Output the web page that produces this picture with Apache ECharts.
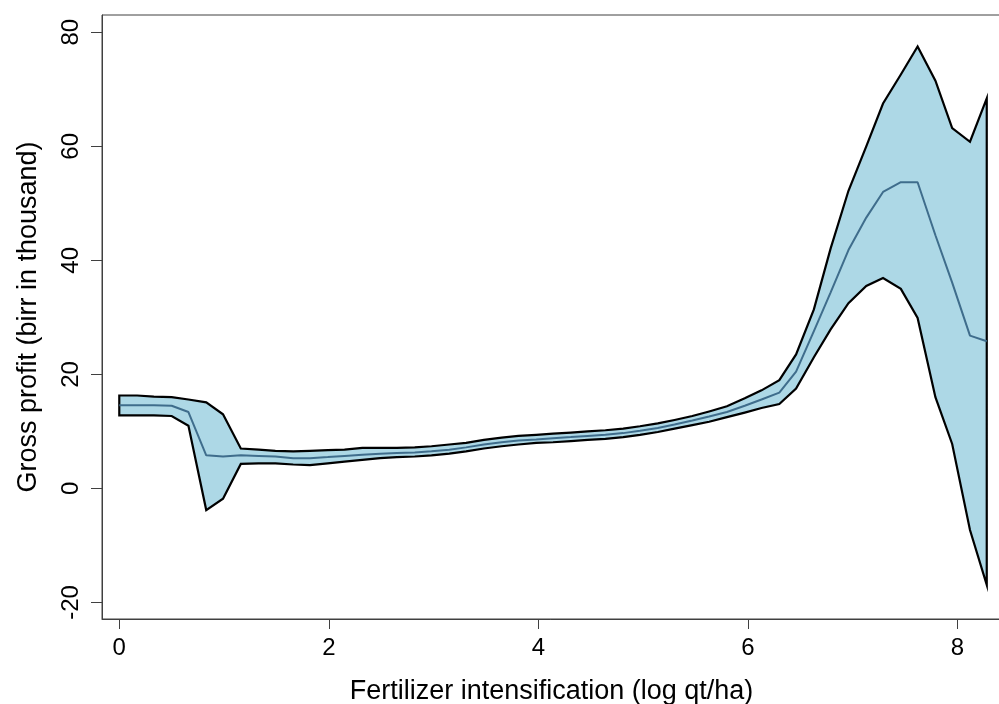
<!DOCTYPE html>
<html>
<head>
<meta charset="utf-8">
<script src="https://cdn.jsdelivr.net/npm/echarts@6/dist/echarts.min.js"></script>
<style>
  html, body { margin: 0; padding: 0; background: #fff; }
  #main { width: 999px; height: 704px; }
</style>
</head>
<body>
<div id="main"></div>
<script>
  // evaluation points (log qt/ha)
  const xs = [0.00, 0.17, 0.33, 0.50, 0.66, 0.83, 0.99, 1.16, 1.33, 1.49,
    1.66, 1.82, 1.99, 2.15, 2.32, 2.49, 2.65, 2.82, 2.98, 3.15,
    3.31, 3.48, 3.65, 3.81, 3.98, 4.14, 4.31, 4.47, 4.64, 4.81,
    4.97, 5.14, 5.30, 5.47, 5.63, 5.80, 5.97, 6.13, 6.30, 6.46,
    6.63, 6.79, 6.96, 7.13, 7.29, 7.46, 7.62, 7.79, 7.95, 8.12, 8.28]

  // upper confidence bound
  const upper = [16.3, 16.3, 16.1, 16.0, 15.6, 15.1, 13.0, 7.0, 6.8, 6.6,
    6.5, 6.6, 6.7, 6.8, 7.1, 7.1, 7.1, 7.2, 7.4, 7.7,
    8.0, 8.5, 8.9, 9.2, 9.4, 9.6, 9.8, 10.0, 10.2, 10.5,
    10.9, 11.4, 12.0, 12.7, 13.5, 14.4, 15.8, 17.2, 19.0, 23.5,
    31.4, 42.1, 52.2, 60.0, 67.5, 72.6, 77.5, 71.5, 63.2, 60.8, 68.4]

  // fitted gross profit
  const fitted = [14.6, 14.6, 14.6, 14.5, 13.4, 5.8, 5.6, 5.8, 5.7, 5.6,
    5.3, 5.3, 5.5, 5.7, 5.9, 6.1, 6.2, 6.3, 6.5, 6.8,
    7.2, 7.7, 8.1, 8.4, 8.6, 8.8, 9.0, 9.2, 9.4, 9.7,
    10.1, 10.6, 11.2, 11.9, 12.6, 13.4, 14.5, 15.6, 16.8, 20.5,
    27.6, 34.4, 41.8, 47.5, 52.0, 53.7, 53.7, 44.4, 36.1, 26.8, 25.8]

  // lower confidence bound
  const lower = [12.8, 12.8, 12.8, 12.7, 11.0, -3.8, -1.8, 4.3, 4.4, 4.4,
    4.2, 4.1, 4.4, 4.7, 5.0, 5.3, 5.5, 5.6, 5.8, 6.1,
    6.5, 7.0, 7.4, 7.7, 8.0, 8.1, 8.3, 8.5, 8.7, 9.0,
    9.4, 9.9, 10.5, 11.1, 11.7, 12.5, 13.3, 14.1, 14.8, 17.5,
    23.0, 27.9, 32.5, 35.5, 36.9, 35.0, 29.9, 16.0, 7.8, -7.3, -16.9]

  const xTicks = [0, 2, 4, 6, 8]
  const yTicks = [-20, 0, 20, 40, 60, 80]

  const chart = echarts.init(document.getElementById('main'))

  const axisColor = '#404040'
  const font = 'Liberation Sans, Arial, sans-serif'

  chart.setOption({
    animation: false,
    grid: {
      left: 102,
      top: 15,
      right: -2,
      bottom: 85,
      show: true,
      borderColor: axisColor,
      borderWidth: 1,
      containLabel: false,
      outerBoundsMode: 'none'
    },
    xAxis: {
      type: 'value',
      min: -0.165,
      max: 8.416,
      name: 'Fertilizer intensification (log qt/ha)',
      nameLocation: 'middle',
      nameGap: 59,
      nameTextStyle: { color: '#000', fontSize: 27, fontFamily: font },
      axisLine: { onZero: false, lineStyle: { color: axisColor, width: 1 } },
      axisTick: { length: 10, customValues: xTicks, lineStyle: { color: axisColor } },
      axisLabel: { customValues: xTicks, margin: 17, color: '#000', fontSize: 24, fontFamily: font },
      splitLine: { show: false }
    },
    yAxis: {
      type: 'value',
      min: -22.9,
      max: 83.03,
      name: 'Gross profit (birr in thousand)',
      nameLocation: 'middle',
      nameGap: 60,
      nameTextStyle: { color: '#000', fontSize: 27, fontFamily: font },
      axisLine: { show: true, onZero: false, lineStyle: { color: axisColor, width: 1 } },
      axisTick: { show: true, length: 11, customValues: yTicks, lineStyle: { color: axisColor } },
      axisLabel: { customValues: yTicks, rotate: 90, margin: 19, color: '#000', fontSize: 24, fontFamily: font },
      splitLine: { show: false }
    },
    series: [
      {
        type: 'custom',
        name: 'band',
        data: xs.map((x, i) => [x, lower[i], upper[i]]),
        encode: { x: 0, y: [1, 2] },
        renderItem: function(params, api) {
          if (params.dataIndex !== 0) return null
          let pts = []
          for (let i = 0; i < xs.length; i++) pts.push(api.coord([xs[i], upper[i]]))
          for (let i = xs.length - 1; i >= 0; i--) pts.push(api.coord([xs[i], lower[i]]))
          return {
            type: 'polygon',
            shape: { points: pts },
            style: { fill: '#add8e6', stroke: '#000', lineWidth: 2.2, lineJoin: 'miter' }
          }
        },
        z: 2
      },
      {
        type: 'line',
        name: 'fitted',
        data: xs.map((x, i) => [x, fitted[i]]),
        showSymbol: false,
        lineStyle: { color: '#3f6d8c', width: 2 },
        z: 3
      }
    ]
  })
</script>
</body>
</html>
